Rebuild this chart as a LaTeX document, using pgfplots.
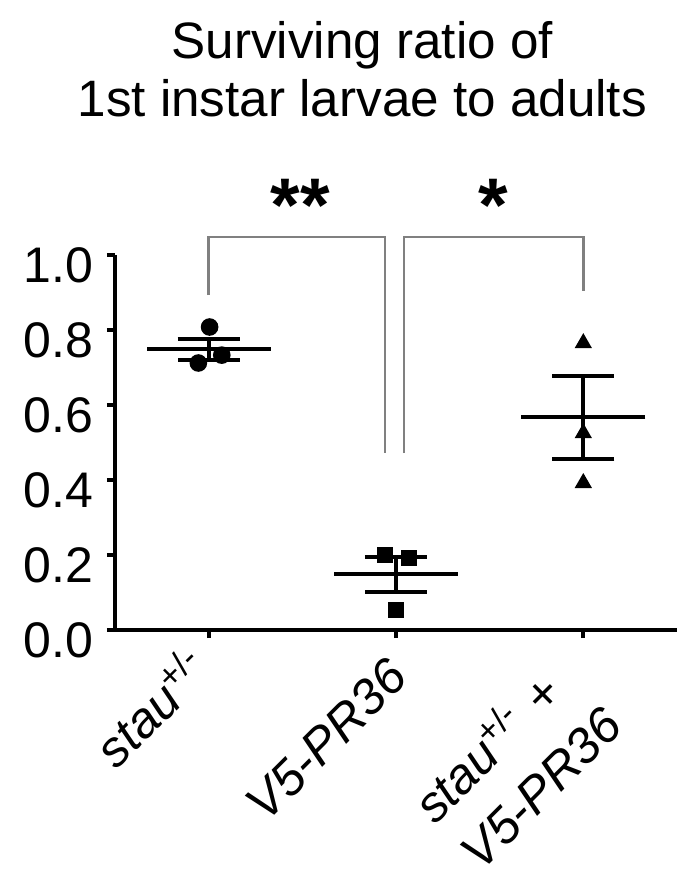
\documentclass[border=0pt]{standalone}
\usepackage{fontspec}
\setmainfont{Liberation Sans}
\usepackage{pgfplots}
\pgfplotsset{compat=1.18}

\begin{document}
\begin{tikzpicture}
% page size = 681x881 px at 0.25pt/px, axis origin at px (115,630)
\useasboundingbox (-28.75pt,-62.75pt) rectangle (141.5pt,157.5pt);
\begin{axis}[
  at={(0,0)}, anchor=south west,
  scale only axis, width=140.5pt, height=93.75pt,
  xmin=-0.5, xmax=2.5, ymin=0, ymax=1,
  axis x line*=bottom, axis y line*=left,
  axis line style={line width=1pt, -},
  clip=false,
  tick align=outside, major tick length=2pt,
  tick style={line width=1pt, black},
  ytick={0,0.2,0.4,0.6,0.8,1},
  yticklabel style={yshift=-2.5pt, /pgf/number format/.cd, fixed, fixed zerofill, precision=1, assume math mode=true},
  tick label style={font=\fontsize{12.5}{16.5}\selectfont},
  xtick={0,1},
  xticklabels={\textit{stau}\textsuperscript{+/-}\hspace{0.9pt}, \rule{0pt}{13.5pt}\textit{V5-PR36}},
  % shifts act in the rotated frame of the labels
  xticklabel style={rotate=45, anchor=north east, inner sep=0pt, xshift=-4.8pt, yshift=3.75pt},
  extra x ticks={2},
  extra x tick labels={\textit{stau}\textsuperscript{+/-}\hspace{4pt}+\\\textit{V5-PR36}},
  extra x tick style={xticklabel style={align=left, xshift=-3.7pt, yshift=0.15pt}},
]
% individual animals' ratios
\addplot[only marks, mark=*, mark size=2pt, black] coordinates {(0.005,0.808) (-0.055,0.712) (0.07,0.733)};
\addplot[only marks, mark=square*, mark size=1.75pt, black] coordinates {(0.94,0.200) (1.07,0.192) (1.00,0.053)};
\addplot[only marks, mark=triangle*, mark size=2.1pt, black] coordinates {(2,0.765) (2,0.525) (2,0.392)};
% mean +- SEM
\addplot[black, only marks, mark=-, mark size=15.5pt, line width=1pt,
  error bars/.cd, y dir=both, y explicit, error mark=|,
  error mark options={mark size=7.75pt, line width=1pt}, error bar style={line width=1pt}]
  coordinates {(0,0.749) +- (0,0.028) (1,0.149) +- (0,0.047) (2,0.567) +- (0,0.110)};
% significance brackets
\addplot[gray, line width=0.6pt] coordinates {(0,0.893) (0,1.048) (0.94,1.048) (0.94,0.472)};
\addplot[gray, line width=0.6pt] coordinates {(1.043,0.472) (1.043,1.048) (2,1.048) (2,0.904)};
\node[anchor=base, font=\bfseries\fontsize{19}{19}\selectfont] at (axis cs:0.49,1.064) {**};
\node[anchor=base, font=\bfseries\fontsize{19}{19}\selectfont] at (axis cs:1.52,1.064) {*};
% title
\node[anchor=base, font=\fontsize{12.8}{14.5}\selectfont] at (axis cs:0.82,1.525) {Surviving ratio of};
\node[anchor=base, font=\fontsize{12.8}{14.5}\selectfont] at (axis cs:0.82,1.37) {1st instar larvae to adults};
\end{axis}
\end{tikzpicture}
\end{document}
